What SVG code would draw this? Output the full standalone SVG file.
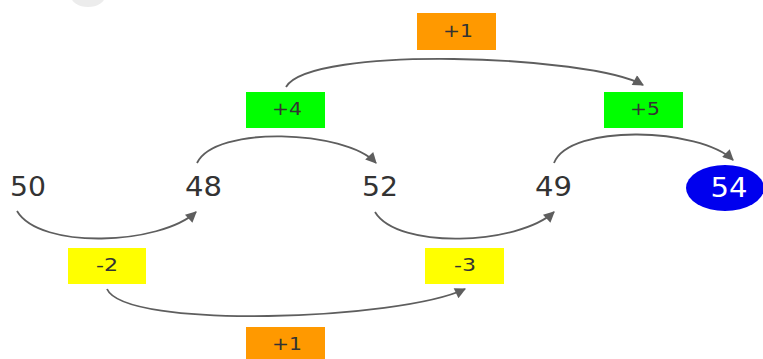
<svg xmlns="http://www.w3.org/2000/svg" width="763" height="359" viewBox="0 0 763 359">
<style>
.num{font-family:"DejaVu Sans",sans-serif;font-size:26px;fill:#333;text-anchor:middle}
.lbl{font-family:"DejaVu Sans",sans-serif;font-size:18px;fill:#333;text-anchor:middle}
.edge{fill:none;stroke:#5e5e5e;stroke-width:1.8}
</style>
<defs>
<marker id="ah" viewBox="0 0 10 10" refX="9" refY="5" markerWidth="13" markerHeight="11" markerUnits="userSpaceOnUse" orient="auto">
<path d="M0,0 L10,5 L0,10 z" fill="#5e5e5e"/>
</marker>
</defs>
<rect width="763" height="359" fill="#fff"/>
<ellipse cx="88" cy="-4" rx="17" ry="11" fill="#ececec"/>
<g id="connectors">
<path class="edge" d="M17,211 C40,250 160,245 196,212" marker-end="url(#ah)"/>
<path class="edge" d="M197,163 C215,125 345,130 376,163" marker-end="url(#ah)"/>
<path class="edge" d="M375,212 C398,250 518,245 554,212" marker-end="url(#ah)"/>
<path class="edge" d="M554,163 C570,123 700,128 733,160" marker-end="url(#ah)"/>
<path class="edge" d="M286,87 C310,45 590,55 643,85" marker-end="url(#ah)"/>
<path class="edge" d="M107,289 C125,330 400,320 465,289" marker-end="url(#ah)"/>
</g>
<g id="n50"><text class="num" x="28" y="196" textLength="36" lengthAdjust="spacingAndGlyphs">50</text></g>
<g id="n48"><text class="num" x="203.5" y="196" textLength="37" lengthAdjust="spacingAndGlyphs">48</text></g>
<g id="n52"><text class="num" x="380" y="196" textLength="36" lengthAdjust="spacingAndGlyphs">52</text></g>
<g id="n49"><text class="num" x="553.5" y="196" textLength="37" lengthAdjust="spacingAndGlyphs">49</text></g>
<g id="n54"><ellipse cx="725" cy="188" rx="39" ry="23" fill="#0000ee"/><text class="num" x="729" y="197" textLength="37" lengthAdjust="spacingAndGlyphs" style="fill:#fff">54</text></g>
<g id="l_top1"><rect x="417" y="13" width="79" height="37" fill="#ff9900"/><text class="lbl" x="458" y="37" textLength="30" lengthAdjust="spacingAndGlyphs">+1</text></g>
<g id="l_p4"><rect x="246" y="92" width="79" height="36" fill="#00ff00"/><text class="lbl" x="287" y="115" textLength="30" lengthAdjust="spacingAndGlyphs">+4</text></g>
<g id="l_p5"><rect x="604" y="92" width="79" height="36" fill="#00ff00"/><text class="lbl" x="645" y="115" textLength="30" lengthAdjust="spacingAndGlyphs">+5</text></g>
<g id="l_m2"><rect x="68" y="248" width="78" height="36" fill="#ffff00"/><text class="lbl" x="107" y="271" textLength="22" lengthAdjust="spacingAndGlyphs">-2</text></g>
<g id="l_m3"><rect x="425" y="248" width="79" height="36" fill="#ffff00"/><text class="lbl" x="465" y="271" textLength="22" lengthAdjust="spacingAndGlyphs">-3</text></g>
<g id="l_bot1"><rect x="246" y="327" width="79" height="36" fill="#ff9900"/><text class="lbl" x="287" y="350" textLength="30" lengthAdjust="spacingAndGlyphs">+1</text></g>
</svg>
